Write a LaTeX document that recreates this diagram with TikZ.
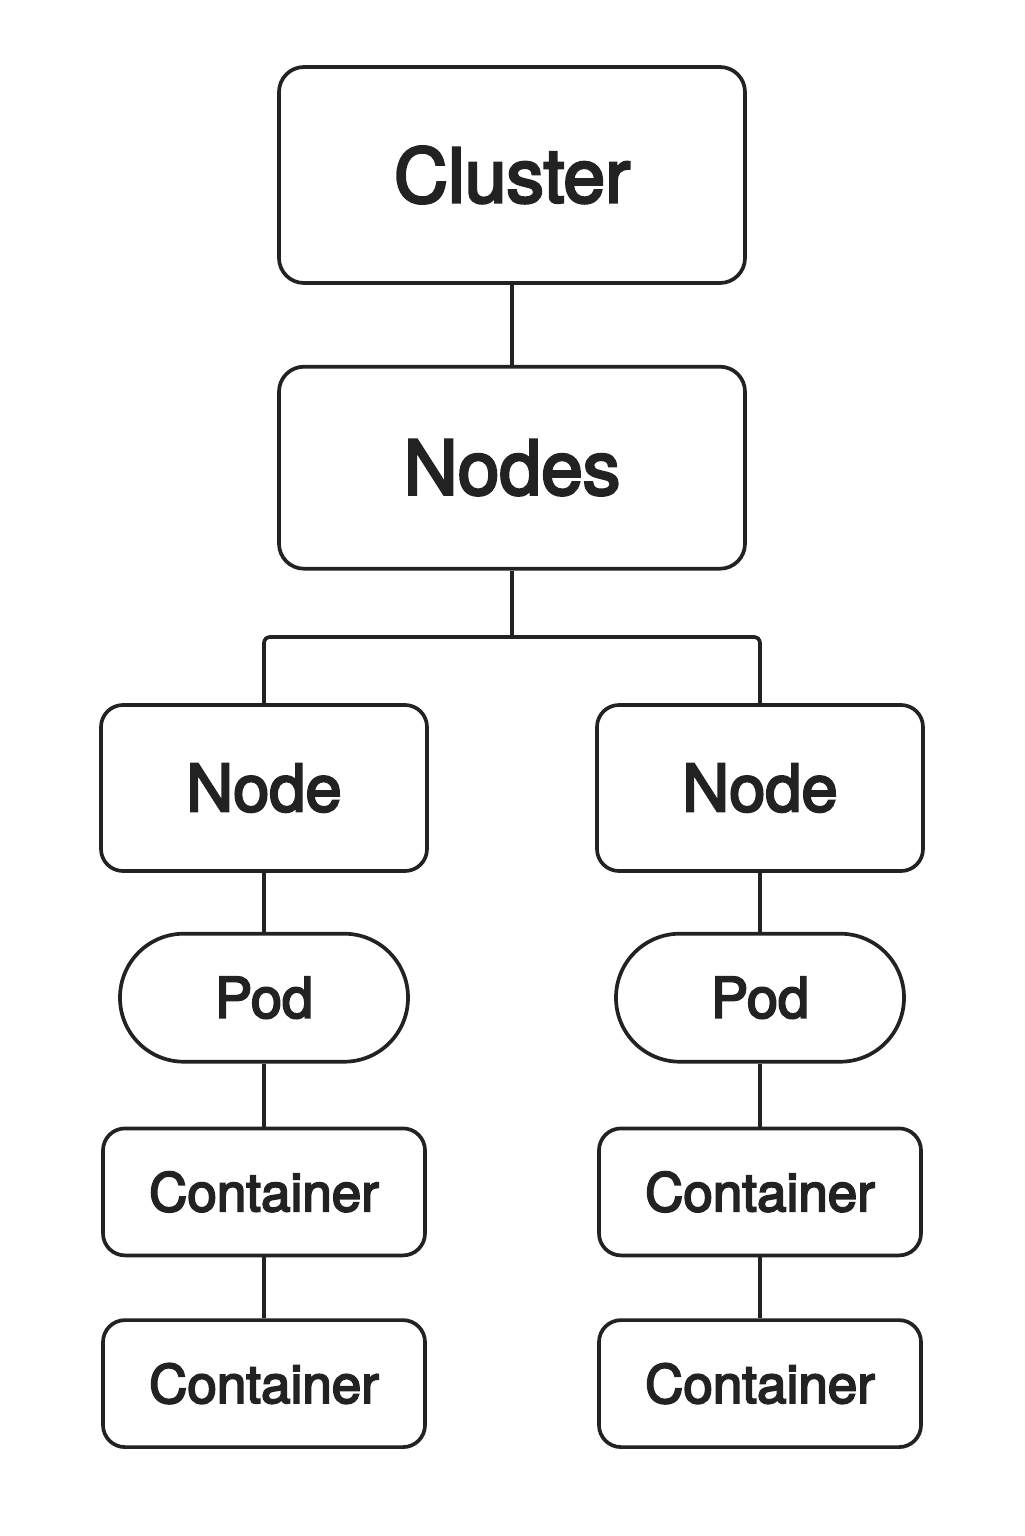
\documentclass[tikz,border=0pt]{standalone}
\usepackage{fontspec}
\setmainfont{TeX Gyre Heros}[FakeBold=3.5]
\usetikzlibrary{positioning}
\definecolor{ink}{HTML}{222222}
\tikzset{
	box/.style={draw=ink, line width=1.85pt, rounded corners=11pt, text=ink, inner sep=0pt},
	top/.style={box, rounded corners=12.5pt, minimum width=233pt, font=\fontsize{37.5}{40}\selectfont},
	machine/.style={box, minimum width=163pt, minimum height=83pt, font=\fontsize{32.5}{36}\selectfont},
	pod/.style={box, rounded corners=31.9pt, minimum width=144pt, minimum height=64pt, font=\fontsize{28}{32}\selectfont},
	container/.style={box, minimum width=161pt, minimum height=63.5pt, font=\fontsize{26.5}{30}\selectfont},
	link/.style={draw=ink, line width=1.85pt}
}
\begin{document}
\begin{tikzpicture}[x=0.5pt, y=-0.5pt]
			\useasboundingbox (0,0) rectangle (1024,1536);
			\node[top, minimum height=108pt] (cluster) at (512,175) {Cluster};
			\node[top, minimum height=101pt, below=40pt of cluster] (nodes) {Nodes};
		
			\node[machine] (nodeL) at (264,788) {Node};
			\node[machine] (nodeR) at (760,788) {Node};
	        
			\foreach \side in {L,R} {
				\node[pod, below=29.5pt of node\side] (pod\side) {Pod};
				\node[container, below=31.5pt of pod\side] (contA\side) {Container};
				\node[container, below=30.5pt of contA\side] (contB\side) {Container};
			}
	
			\coordinate (split) at (512,637);
			\path[link] (cluster) -- (nodes);
			\path[link] (nodes) -- (split);
			\path[link, rounded corners=3pt] (split) -| (nodeL.north);
			\path[link, rounded corners=3pt] (split) -| (nodeR.north);
			
			\foreach \side in {L,R} {
				\path[link] (node\side) -- (pod\side);
				\path[link] (pod\side) -- (contA\side);
				\path[link] (contA\side) -- (contB\side);
			}
		\end{tikzpicture}
\end{document}
